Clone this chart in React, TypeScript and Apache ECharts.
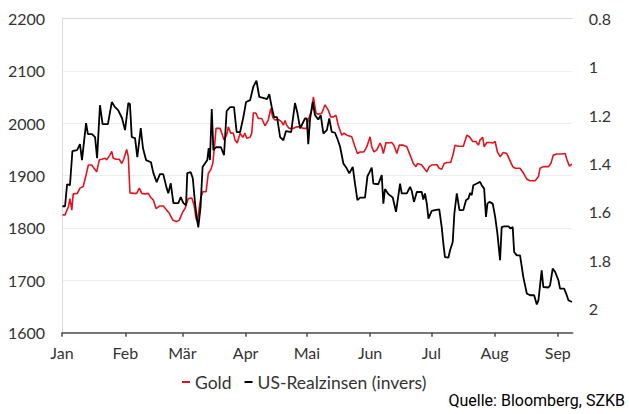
import React, { useEffect, useRef } from "react";
import * as echarts from "echarts";

// x positions are days since 1 Jan 2023
const monthNames = ["Jan", "Feb", "Mär", "Apr", "Mai", "Jun", "Jul", "Aug", "Sep", "Okt", "Nov", "Dez"];
const goldTicks = [1600, 1700, 1800, 1900, 2000, 2100, 2200];
const realTicks = [0.8, 1, 1.2, 1.4, 1.6, 1.8, 2];

const goldDays = [
  0.3, 1.5, 2.3, 3.1, 3.9, 4.8, 5.5, 7.5, 8.8, 10.4,
  11.8, 12.9, 14.6, 15.7, 17.0, 18.3, 19.5, 21.1, 21.9, 23.5,
  24.4, 25.1, 26.5, 28.1, 29.3, 30.4, 31.7, 32.5, 33.3, 35.3,
  36.6, 37.9, 39.1, 40.7, 42.3, 43.5, 44.8, 46.1, 48.0, 49.7,
  51.3, 52.6, 54.3, 56.2, 57.5, 59.2, 60.3, 61.9, 63.6, 64.7,
  65.7, 66.3, 68.0, 69.0, 70.6, 71.7, 72.9, 73.9, 74.8, 75.5,
  77.5, 78.3, 79.4, 80.7, 81.5, 82.7, 84.0, 84.8, 85.9, 87.3,
  88.6, 89.7, 90.5, 92.2, 93.0, 93.8, 95.1, 96.2, 97.9, 99.5,
  101.1, 102.3, 103.3, 104.4, 106.0, 107.6, 108.5, 109.3, 110.1, 111.4,
  113.4, 115.0, 116.7, 118.3, 120.0, 120.7, 122.4, 123.2, 124.5, 125.6,
  127.3, 128.9, 130.5, 131.7, 133.0, 134.3, 135.4, 137.1, 138.2, 139.6,
  142.0, 143.6, 144.8, 146.1, 148.0, 149.4, 151.0, 151.8, 152.9, 154.3,
  155.9, 156.7, 157.5, 158.8, 159.9, 161.6, 162.7, 164.1, 165.3, 167.3,
  169.0, 170.6, 172.2, 173.5, 174.2, 176.3, 177.5, 178.8, 180.0, 181.2,
  183.7, 184.9, 186.1, 187.3, 188.6, 190.5, 191.8, 192.6, 194.3, 196.7,
  198.4, 199.7, 201.3, 202.9, 204.1, 204.9, 206.2, 206.9, 208.2, 209.8,
  211.1, 212.3, 213.4, 214.7, 216.3, 218.0, 219.3, 220.9, 222.1, 224.5,
  226.1, 227.8, 229.4, 231.9, 233.5, 234.3, 235.9, 238.4, 239.6, 240.8,
  242.5, 244.9, 246.6, 247.4, 248.7, 249.9,
];
const goldValues = [
  1825, 1825, 1833, 1840, 1856, 1834, 1865, 1866, 1876, 1879,
  1901, 1920, 1920, 1914, 1907, 1930, 1931, 1933, 1930, 1939,
  1946, 1933, 1931, 1931, 1923, 1933, 1950, 1936, 1867, 1866,
  1866, 1876, 1866, 1865, 1866, 1858, 1853, 1837, 1842, 1842,
  1834, 1828, 1815, 1812, 1815, 1831, 1837, 1856, 1857, 1844,
  1818, 1813, 1857, 1869, 1869, 1904, 1911, 1923, 1958, 1990,
  1990, 1981, 1968, 1977, 1993, 1981, 1981, 1968, 1962, 1981,
  1973, 1981, 1971, 1973, 1981, 2020, 2019, 2009, 2009, 1995,
  2006, 2028, 2011, 2006, 2007, 2003, 1996, 2005, 1996, 1990,
  1990, 1993, 1993, 1990, 1990, 2006, 2025, 2050, 2019, 2017,
  2019, 2035, 2025, 2012, 2012, 2015, 1996, 1977, 1981, 1977,
  1974, 1955, 1942, 1945, 1945, 1955, 1974, 1955, 1945, 1949,
  1962, 1955, 1942, 1963, 1962, 1963, 1958, 1942, 1958, 1958,
  1955, 1939, 1923, 1917, 1923, 1920, 1914, 1907, 1917, 1920,
  1921, 1914, 1912, 1923, 1925, 1925, 1942, 1958, 1956, 1956,
  1977, 1974, 1965, 1965, 1958, 1968, 1973, 1955, 1963, 1963,
  1962, 1965, 1945, 1936, 1944, 1942, 1931, 1917, 1914, 1914,
  1905, 1893, 1890, 1890, 1898, 1914, 1917, 1917, 1923, 1939,
  1941, 1941, 1942, 1931, 1918, 1922,
];

const realDays = [
  0.2, 1.5, 2.5, 3.9, 5.1, 7.4, 8.8, 9.8, 11.8, 12.7,
  14.7, 16.2, 17.2, 18.6, 19.9, 22.5, 24.4, 26.0, 27.5, 29.4,
  30.9, 32.5, 33.3, 34.2, 35.8, 36.9, 38.6, 39.7, 41.2, 43.6,
  44.8, 46.4, 48.0, 49.6, 51.3, 52.1, 53.3, 54.6, 57.0, 58.2,
  59.5, 60.8, 61.4, 63.1, 64.1, 65.2, 66.0, 66.8, 67.9, 68.9,
  71.2, 71.9, 72.5, 73.4, 74.2, 75.5, 77.9, 79.4, 80.7, 82.4,
  84.3, 85.6, 87.3, 88.9, 90.2, 92.2, 93.8, 95.3, 96.7, 99.0,
  100.5, 101.6, 102.8, 103.9, 105.4, 106.9, 108.5, 109.8, 112.3, 114.2,
  115.3, 116.7, 119.1, 120.0, 120.7, 121.6, 122.9, 124.0, 125.6, 126.8,
  128.1, 129.8, 131.0, 132.2, 133.8, 134.9, 136.3, 137.9, 139.6, 140.8,
  142.5, 143.6, 144.8, 146.1, 148.5, 149.7, 150.5, 151.8, 152.6, 155.0,
  156.7, 157.5, 158.3, 160.0, 162.1, 163.7, 164.4, 165.7, 166.5, 169.0,
  170.6, 171.4, 172.5, 173.9, 176.3, 177.1, 177.9, 178.8, 179.6, 181.2,
  182.8, 184.9, 186.1, 186.9, 187.7, 189.4, 190.2, 191.5, 192.3, 193.5,
  194.8, 196.7, 198.0, 199.2, 200.0, 200.8, 201.6, 203.3, 204.9, 205.7,
  206.9, 207.8, 208.5, 209.5, 211.1, 212.3, 213.4, 214.7, 215.5, 216.7,
  218.8, 219.9, 220.9, 221.6, 222.9, 224.5, 226.1, 227.8, 229.4, 231.4,
  232.7, 233.5, 235.1, 235.9, 238.4, 239.2, 240.5, 241.7, 243.3, 244.1,
  246.1, 247.1, 248.2, 249.9,
];
const realValues = [
  1.577, 1.577, 1.486, 1.490, 1.349, 1.345, 1.320, 1.386, 1.233, 1.279,
  1.279, 1.291, 1.378, 1.159, 1.237, 1.237, 1.146, 1.167, 1.179, 1.212,
  1.262, 1.150, 1.154, 1.291, 1.295, 1.374, 1.254, 1.337, 1.386, 1.395,
  1.440, 1.477, 1.444, 1.444, 1.502, 1.523, 1.482, 1.564, 1.564, 1.539,
  1.564, 1.573, 1.440, 1.436, 1.461, 1.564, 1.622, 1.664, 1.581, 1.415,
  1.386, 1.337, 1.386, 1.175, 1.345, 1.333, 1.333, 1.366, 1.183, 1.167,
  1.167, 1.270, 1.270, 1.208, 1.146, 1.138, 1.082, 1.058, 1.125, 1.130,
  1.134, 1.113, 1.167, 1.208, 1.208, 1.291, 1.304, 1.266, 1.270, 1.150,
  1.188, 1.255, 1.214, 1.214, 1.320, 1.214, 1.145, 1.200, 1.218, 1.200,
  1.276, 1.262, 1.214, 1.269, 1.273, 1.296, 1.331, 1.400, 1.421, 1.441,
  1.414, 1.483, 1.552, 1.541, 1.541, 1.453, 1.440, 1.417, 1.483, 1.486,
  1.448, 1.566, 1.506, 1.527, 1.541, 1.600, 1.559, 1.483, 1.524, 1.524,
  1.497, 1.513, 1.559, 1.518, 1.518, 1.549, 1.524, 1.566, 1.628, 1.596,
  1.593, 1.590, 1.663, 1.731, 1.787, 1.789, 1.759, 1.725, 1.607, 1.524,
  1.593, 1.593, 1.552, 1.545, 1.522, 1.531, 1.490, 1.483, 1.476, 1.490,
  1.504, 1.621, 1.566, 1.559, 1.566, 1.621, 1.690, 1.800, 1.663, 1.660,
  1.660, 1.669, 1.663, 1.766, 1.780, 1.780, 1.870, 1.938, 1.945, 1.945,
  1.983, 1.966, 1.842, 1.911, 1.913, 1.904, 1.835, 1.849, 1.883, 1.918,
  1.918, 1.938, 1.966, 1.973,
];

const DAY = 86400000;
const T0 = Date.UTC(2023, 0, 1);
const toTime = (d: number) => T0 + d * DAY;

export default function App() {
  const ref = useRef<HTMLDivElement>(null);
  useEffect(() => {
    if (!ref.current) return;
    const chart = echarts.init(ref.current, null, { renderer: "svg" });
    const gold = goldDays.map((d, i) => [toTime(d), goldValues[i]]);
    const real = realDays.map((d, i) => [toTime(d), realValues[i]]);
    const font = "Lato";
    chart.setOption({
      animation: false,
      useUTC: true,
      backgroundColor: "#fff",
      grid: { left: 62, right: 56.3, top: 18.4, bottom: 81.3 },
      legend: {
        data: [
          { name: "Gold", itemStyle: { color: "#e3141e" } },
          { name: "US-Realzinsen (invers)", itemStyle: { color: "#000" } },
        ],
        left: 177,
        top: 368,
        icon: "rect",
        itemWidth: 8,
        itemHeight: 2,
        itemGap: 13,
        textStyle: { fontFamily: font, fontSize: 17.5, color: "#333" },
      },
      xAxis: {
        type: "time",
        min: T0,
        max: toTime(250.3),
        splitNumber: 9,
        minInterval: 28 * DAY,
        maxInterval: 31 * DAY,
        axisLine: { show: true, lineStyle: { color: "#4d4d4d", width: 1.5 } },
        axisTick: { show: true, length: 4, lineStyle: { color: "#4d4d4d", width: 1.5 } },
        splitLine: { show: false },
        axisLabel: {
          margin: 12,
          fontFamily: font,
          fontSize: 16,
          color: "#333",
          showMinLabel: true,
          showMaxLabel: false,
          formatter: (v: number) => {
            const dt = new Date(v);
            return dt.getUTCDate() === 1 ? monthNames[dt.getUTCMonth()] : "";
          },
        },
      },
      yAxis: [
        {
          type: "value",
          min: goldTicks[0],
          max: goldTicks[goldTicks.length - 1],
          interval: 100,
          axisLine: { show: true, lineStyle: { color: "#dcdcdc", width: 1 } },
          axisTick: { show: false },
          splitLine: {
            show: true,
            lineStyle: { color: ["#eeeeee", "#eeeeee", "#eeeeee", "#eeeeee", "#eeeeee", "#f2f2f2", "#d9d9d9"], width: 1 },
          },
          axisLabel: {
            margin: 17,
            fontFamily: font,
            fontSize: 16,
            color: "#333",
            formatter: (v: number) => String(v),
          },
        },
        {
          type: "value",
          inverse: true,
          min: realTicks[0],
          max: 2.1,
          interval: 0.2,
          axisLine: { show: false },
          axisTick: { show: false },
          splitLine: { show: false },
          axisLabel: {
            margin: 16,
            fontFamily: font,
            fontSize: 16,
            color: "#333",
            formatter: (v: number) => (v > 2.05 ? "" : String(Number(v.toFixed(1)))),
          },
        },
      ],
      series: [
        {
          name: "Gold",
          type: "line",
          yAxisIndex: 0,
          data: gold,
          symbol: "none",
          lineStyle: { color: "#e3141e", width: 1.6 },
          itemStyle: { color: "#e3141e" },
        },
        {
          name: "US-Realzinsen (invers)",
          type: "line",
          yAxisIndex: 1,
          data: real,
          symbol: "none",
          lineStyle: { color: "#000", width: 1.8 },
          itemStyle: { color: "#000" },
        },
      ],
      graphic: [
        {
          type: "text",
          right: 4,
          top: 392,
          style: {
            text: "Quelle: Bloomberg, SZKB",
            font: '16px Roboto',
            fill: "#000",
          },
        },
      ],
    });
    return () => chart.dispose();
  }, []);
  return <div ref={ref} style={{ position: "fixed", left: 0, top: 0, width: 629, height: 414 }} />;
}
